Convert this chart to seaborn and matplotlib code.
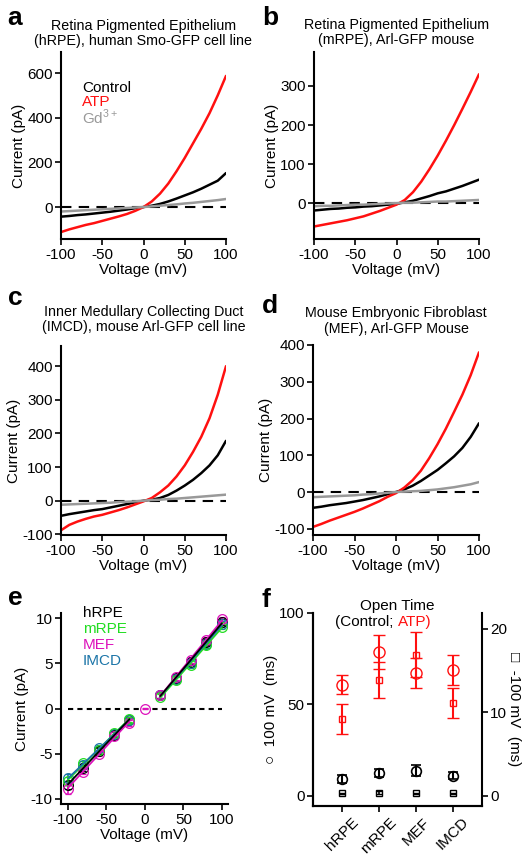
import numpy as np
import pandas as pd
import matplotlib
matplotlib.use('Agg')
import matplotlib.pyplot as plt
import seaborn as sns

volt = list(range(-100, 101, 10))

a_control = [-43, -40, -36, -33, -29, -25, -21, -16, -11, -5, 0, 6, 14, 25, 38, 52, 66, 82, 100, 118, 152]
a_atp = [-112, -100, -90, -80, -72, -62, -52, -42, -31, -17, 0, 25, 60, 105, 160, 220, 285, 350, 420, 500, 587]
a_gd = [-20, -18, -16, -14, -12, -10, -8, -6, -4, -2, 0, 3, 6, 9, 12, 16, 19, 23, 27, 31, 36]

b_control = [-19, -17, -15, -14, -12, -11, -9, -8, -6, -4, -2, 2, 6, 12, 18, 25, 30, 37, 44, 52, 60]
b_atp = [-60, -56, -52, -48, -44, -39, -34, -27, -20, -12, -4, 8, 28, 55, 87, 122, 160, 200, 242, 285, 330]
b_gd = [-8, -7, -7, -6, -5, -4, -4, -3, -2, -1, 0, 1, 1, 2, 3, 4, 4, 5, 6, 7, 8]

c_control = [-45, -40, -36, -32, -28, -25, -20, -15, -10, -5, 0, 3, 8, 17, 30, 45, 62, 82, 105, 135, 178]
c_atp = [-88, -72, -62, -54, -47, -42, -35, -28, -20, -11, -2, 8, 25, 45, 72, 105, 145, 190, 245, 315, 400]
c_gd = [-12, -11, -10, -9, -8, -7, -6, -4, -3, -2, 0, 2, 3, 5, 6, 8, 10, 12, 14, 16, 18]

d_control = [-43, -40, -36, -33, -30, -26, -22, -17, -12, -6, 0, 7, 17, 30, 45, 60, 78, 97, 120, 150, 187]
d_atp = [-95, -87, -78, -70, -62, -54, -45, -35, -25, -13, -3, 12, 32, 58, 92, 130, 172, 218, 265, 318, 380]
d_gd = [-14, -13, -12, -11, -10, -9, -7, -6, -4, -2, 0, 1, 2, 3, 5, 7, 10, 13, 17, 21, 27]

# ---- single channel I-V (panel e) ----
e_volt = [-100, -80, -60, -40, -20, 20, 40, 60, 80, 100]
e_hrpe = [-8.5, -6.6, -4.7, -2.9, -1.3, 1.5, 3.4, 5.2, 7.4, 9.6]
e_mrpe = [-8.0, -6.1, -4.6, -2.7, -1.2, 1.3, 3.2, 4.8, 7.0, 9.1]
e_mef = [-8.9, -7.0, -5.0, -3.1, -1.6, 1.5, 3.5, 5.4, 7.6, 9.9]
e_imcd = [-7.7, -6.3, -4.4, -2.8, -1.3, 1.5, 3.3, 5.1, 7.2, 9.4]
e_err = [0.4, 0.3, 0.3, 0.3, 0.3, 0.3, 0.3, 0.3, 0.3, 0.3]
e_mef_err = [0.6, 0.3, 0.3, 0.3, 0.3, 0.3, 0.3, 0.3, 0.3, 0.3]

# ---- open times (panel f) ----
cells = ['hRPE', 'mRPE', 'MEF', 'IMCD']
ctrl_100 = [9.3, 12.5, 13.8, 11.0]
ctrl_100_err = [2.0, 2.0, 3.0, 2.0]
atp_100 = [60.7, 78.7, 67.2, 68.9]
atp_100_err = [5.2, 9.5, 8.0, 8.0]
ctrl_m100 = [0.3, 0.4, 0.3, 0.3]
ctrl_m100_err = [0.1, 0.15, 0.1, 0.1]
atp_m100 = [9.2, 13.9, 16.9, 11.1]
atp_m100_err = [1.8, 2.15, 2.7, 1.8]

sns.set_style('ticks')
plt.rcParams['font.family'] = ['Liberation Sans', 'DejaVu Sans']
plt.rcParams['mathtext.fontset'] = 'custom'
plt.rcParams['mathtext.rm'] = 'Liberation Sans'
plt.rcParams['axes.unicode_minus'] = False
for k in ['text.color', 'axes.labelcolor', 'xtick.color', 'ytick.color', 'axes.edgecolor']:
    plt.rcParams[k] = 'black'
plt.rcParams['axes.linewidth'] = 1.5
plt.rcParams['xtick.major.width'] = 1.2
plt.rcParams['ytick.major.width'] = 1.2
plt.rcParams['xtick.major.size'] = 4
plt.rcParams['ytick.major.size'] = 4
plt.rcParams['xtick.major.pad'] = 2.5
plt.rcParams['ytick.major.pad'] = 2
plt.rcParams['xtick.labelsize'] = 11
plt.rcParams['ytick.labelsize'] = 11
plt.rcParams['axes.labelsize'] = 11

FS = 10.3
W, H = 530, 859
fig = plt.figure(figsize=(W / 100, H / 100), dpi=100)


def box(x0, x1, y0, y1):
    return [x0 / W, 1 - y1 / H, (x1 - x0) / W, (y1 - y0) / H]


red = '#ff1010'
trace_pal = {'Control': 'black', 'ATP': red, 'Gd': '#999999'}


def iv_panel(rect, ctrl, atp, gd, ylim, yticks, title, pad):
    ax = fig.add_axes(rect)
    df = pd.DataFrame({'V': volt * 3,
                       'I': ctrl + atp + gd,
                       'cond': ['Control'] * 21 + ['ATP'] * 21 + ['Gd'] * 21})
    ax.plot([-100, 100], [0, 0], color='black', lw=1.5, ls=(0, (5, 3.5)), zorder=1)
    sns.lineplot(data=df, x='V', y='I', hue='cond', palette=trace_pal, estimator=None,
                 lw=1.8, ax=ax, legend=False, zorder=2)
    ax.set_xlim(-100, 100)
    ax.set_ylim(*ylim)
    ax.set_xticks([-100, -50, 0, 50, 100])
    ax.set_yticks(yticks)
    ax.set_xlabel('Voltage (mV)', labelpad=1)
    ax.set_ylabel('Current (pA)', labelpad=1)
    ax.set_title(title, fontsize=FS, pad=pad, linespacing=1.1)
    sns.despine(ax=ax)
    return ax


ax_a = iv_panel(box(61, 226, 52, 239), a_control, a_atp, a_gd, (-143, 694), [0, 200, 400, 600],
                'Retina Pigmented Epithelium\n(hRPE), human Smo-GFP cell line', 5)
ax_a.text(0.13, 0.81, 'Control', color='black', fontsize=11, transform=ax_a.transAxes, va='center')
ax_a.text(0.13, 0.73, 'ATP', color=red, fontsize=11, transform=ax_a.transAxes, va='center')
ax_a.text(0.13, 0.65, r'Gd$^{\mathrm{3+}}$', color='#999999', fontsize=11,
          transform=ax_a.transAxes, va='center')

iv_panel(box(314, 479, 52, 239), b_control, b_atp, b_gd, (-92, 387), [0, 100, 200, 300],
         'Retina Pigmented Epithelium\n(mRPE), Arl-GFP mouse', 6)
iv_panel(box(61, 226, 346, 535), c_control, c_atp, c_gd, (-102, 460), [-100, 0, 100, 200, 300, 400],
         'Inner Medullary Collecting Duct\n(IMCD), mouse Arl-GFP cell line', 11)
iv_panel(box(313, 479, 345, 535), d_control, d_atp, d_gd, (-117, 400), [-100, 0, 100, 200, 300, 400],
         'Mouse Embryonic Fibroblast\n(MEF), Arl-GFP Mouse', 9)

# ---- panel e ----
ax_e = fig.add_axes(box(61, 228, 613, 804))
e_cols = {'hRPE': 'black', 'mRPE': '#22dd22', 'MEF': '#dd11bb', 'IMCD': '#1c75a8'}
e_data = {'hRPE': e_hrpe, 'mRPE': e_mrpe, 'MEF': e_mef, 'IMCD': e_imcd}
ax_e.plot([-100, 100], [0, 0], color='black', lw=1.5, ls=(0, (2.5, 2)), zorder=1)
for name in ['hRPE', 'IMCD', 'mRPE', 'MEF']:
    vals = e_data[name]
    err = e_mef_err if name == 'MEF' else e_err
    ax_e.errorbar(e_volt, vals, yerr=err, fmt='o', ms=7, mfc='none', mec=e_cols[name],
                  mew=0.9, ecolor=e_cols[name], elinewidth=1.2, capsize=2.5, zorder=3)
for name in ['mRPE', 'IMCD', 'MEF', 'hRPE']:
    seg = pd.DataFrame({'V': e_volt, 'I': e_data[name]})
    for part in [seg[seg['V'] < 0], seg[seg['V'] > 0]]:
        sns.regplot(data=part, x='V', y='I', scatter=False, ci=None, truncate=True,
                    color=e_cols[name], line_kws={'lw': 1.3, 'zorder': 4}, ax=ax_e)
ax_e.errorbar([0], [0], yerr=[0.1], fmt='o', ms=7, mfc='none', mec=e_cols['MEF'], mew=0.9,
              ecolor=e_cols['MEF'], capsize=2.5, zorder=3)
ax_e.set_xlim(-109, 108)
ax_e.set_ylim(-10.6, 10.6)
ax_e.set_xticks([-100, -50, 0, 50, 100])
ax_e.set_yticks([-10, -5, 0, 5, 10])
ax_e.set_xlabel('Voltage (mV)', labelpad=1)
ax_e.set_ylabel('Current (pA)', labelpad=1)
sns.despine(ax=ax_e)
for i, name in enumerate(['hRPE', 'mRPE', 'MEF', 'IMCD']):
    ax_e.text(0.13, 1.0 - i * 0.083, name, color=e_cols[name], fontsize=11,
              transform=ax_e.transAxes, va='center')

# ---- panel f ----
ax_f = fig.add_axes(box(313, 482, 613, 806))
ax_f2 = ax_f.twinx()
xpos = np.arange(len(cells))
ax_f.errorbar(xpos, ctrl_100, yerr=ctrl_100_err, fmt='o', ms=7, mfc='none', mec='black', mew=1.2,
              ecolor='black', elinewidth=1.5, capsize=3.5, capthick=1.5)
ax_f.errorbar(xpos, atp_100, yerr=atp_100_err, fmt='o', ms=8, mfc='none', mec=red, mew=1.0,
              ecolor=red, elinewidth=1.5, capsize=4, capthick=1.5)
ax_f2.errorbar(xpos, ctrl_m100, yerr=ctrl_m100_err, fmt='s', ms=4.5, mfc='none', mec='black',
               mew=1.0, ecolor='black', elinewidth=1.2, capsize=2.5)
ax_f2.errorbar(xpos, atp_m100, yerr=atp_m100_err, fmt='s', ms=5, mfc='none', mec=red, mew=1.0,
               ecolor=red, elinewidth=1.5, capsize=4, capthick=1.5)
ax_f.set_xlim(-0.8, 3.8)
ax_f.set_ylim(-5.5, 100)
ax_f2.set_ylim(-1.2, 21.9)
ax_f.set_yticks([0, 50, 100])
ax_f2.set_yticks([0, 10, 20])
ax_f.set_xticks(xpos)
ax_f.set_xticklabels(cells, rotation=45, ha='center')
ax_f.set_ylabel('\u25cb  100 mV  (ms)', labelpad=1)
ax_f2.set_ylabel('\u25a1  -100 mV  (ms)', rotation=270, labelpad=10)
for a in (ax_f, ax_f2):
    a.spines['top'].set_visible(False)
ax_f.spines['right'].set_visible(False)
ax_f.text(0.5, 1.035, 'Open Time', fontsize=11, ha='center', va='center', transform=ax_f.transAxes)
ax_f.text(0.5, 0.955, '(Control; ', fontsize=11, ha='right', va='center', transform=ax_f.transAxes)
ax_f.text(0.5, 0.955, 'ATP)', fontsize=11, color=red, ha='left', va='center', transform=ax_f.transAxes)

# panel letters
for lab, x, y in [('a', 7, 25), ('b', 262, 25), ('c', 8, 305), ('d', 262, 313),
                  ('e', 8, 605), ('f', 262, 607)]:
    fig.text(x / W, 1 - y / H, lab, fontsize=19, fontweight='bold', va='baseline')

fig.savefig('out.png', dpi=100)
